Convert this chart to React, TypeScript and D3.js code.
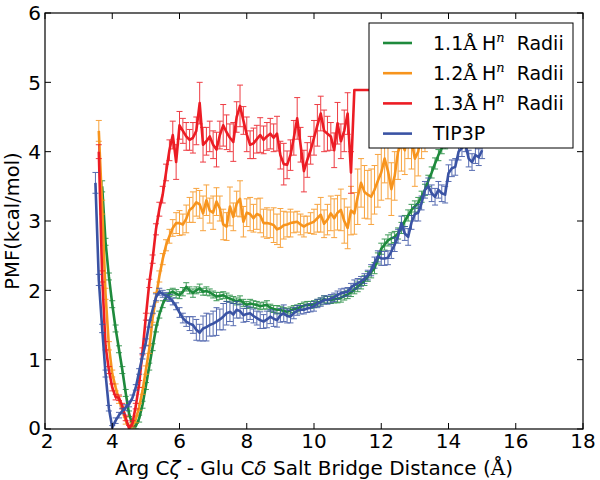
import React from 'react';
import * as d3 from 'd3';

// ---------- data ----------
const xTickValues = [2, 4, 6, 8, 10, 12, 14, 16, 18];
const yTickValues = [0, 1, 2, 3, 4, 5, 6];
const seriesNames = ['1.1', '1.2', '1.3', 'TIP3P'];
const seriesColors = ['#1e8a3c', '#f7941d', '#ec1c24', '#3a53a4'];
const seriesStart = [3.7, 3.6, 3.6, 3.5];
const stepX = 0.1;

const greenY = [
  3.5, 2.7, 2.2, 1.8, 1.45, 1.15, 0.85, 0.52, 0.22, 0.06,
  0.04, 0.15, 0.35, 0.62, 0.9, 1.18, 1.45, 1.65, 1.8, 1.9,
  1.96, 1.98, 1.95, 1.93, 1.98, 2.05, 2.0, 1.96, 2.0, 2.03,
  1.98, 1.99, 1.97, 1.94, 1.91, 1.92, 1.93, 1.9, 1.88, 1.86,
  1.84, 1.86, 1.82, 1.79, 1.81, 1.8, 1.79, 1.77, 1.78, 1.79,
  1.75, 1.73, 1.72, 1.72, 1.7, 1.69, 1.71, 1.73, 1.74, 1.76,
  1.78, 1.79, 1.79, 1.8, 1.82, 1.84, 1.87, 1.86, 1.86, 1.87,
  1.88, 1.89, 1.92, 1.94, 1.97, 2.01, 2.05, 2.09, 2.14, 2.2,
  2.26, 2.32, 2.46, 2.6, 2.66, 2.72, 2.75, 2.77, 2.82, 2.9,
  3.0, 3.08, 3.16, 3.21, 3.26, 3.35, 3.45, 3.58, 3.7, 3.83,
  3.95, 4.05, 4.12, 4.25,
];
const greenErr = [
  0.08, 0.05, 0.05, 0.05, 0.05, 0.05, 0.05, 0.05, 0.04, 0.04,
  0.04, 0.05, 0.05, 0.05, 0.05, 0.05, 0.05, 0.05, 0.05, 0.05,
  0.05, 0.05, 0.06, 0.05, 0.06, 0.06, 0.05, 0.06, 0.05, 0.06,
  0.05, 0.06, 0.05, 0.05, 0.06, 0.05, 0.05, 0.06, 0.05, 0.05,
  0.05, 0.06, 0.05, 0.05, 0.06, 0.05, 0.05, 0.05, 0.05, 0.06,
  0.05, 0.05, 0.06, 0.05, 0.05, 0.05, 0.05, 0.05, 0.05, 0.05,
  0.05, 0.05, 0.05, 0.05, 0.05, 0.05, 0.05, 0.05, 0.05, 0.05,
  0.06, 0.06, 0.06, 0.06, 0.06, 0.06, 0.07, 0.07, 0.07, 0.07,
  0.08, 0.08, 0.08, 0.08, 0.08, 0.08, 0.08, 0.08, 0.08, 0.08,
  0.08, 0.08, 0.08, 0.08, 0.08, 0.08, 0.08, 0.08, 0.08, 0.08,
  0.08, 0.08, 0.08, 0.08,
];

const orangeY = [
  4.3, 3.2, 1.95, 1.2, 0.8, 0.6, 0.42, 0.28, 0.12, 0.03,
  0.05, 0.14, 0.32, 0.55, 0.85, 1.15, 1.6, 1.9, 2.2, 2.45,
  2.65, 2.78, 2.9, 2.97, 2.97, 2.95, 3.03, 3.16, 3.2, 3.27,
  3.24, 3.11, 3.3, 3.15, 3.12, 3.28, 3.18, 2.95, 2.92, 3.21,
  3.06, 3.25, 3.32, 2.99, 3.12, 3.1, 3.04, 3.1, 3.08, 2.97,
  2.97, 2.96, 2.94, 2.88, 2.9, 2.94, 2.95, 2.97, 2.98, 2.99,
  2.95, 2.92, 2.95, 2.97, 2.99, 3.04, 3.09, 2.96, 3.02, 3.11,
  3.04, 3.12, 3.16, 3.0, 2.9, 3.15, 3.11, 3.35, 3.55, 3.42,
  3.38, 3.35, 3.45, 3.58, 3.7, 3.9, 3.72, 3.46, 3.65, 4.0,
  4.12, 4.02, 4.3, 4.15, 3.9, 4.0, 4.3, 4.4,
];
const orangeErr = [
  0.15, 0.1, 0.08, 0.06, 0.05, 0.05, 0.05, 0.05, 0.05, 0.04,
  0.04, 0.05, 0.05, 0.05, 0.06, 0.06, 0.06, 0.07, 0.08, 0.08,
  0.08, 0.1, 0.12, 0.15, 0.18, 0.15, 0.2, 0.18, 0.22, 0.2,
  0.2, 0.25, 0.22, 0.18, 0.24, 0.2, 0.18, 0.22, 0.2, 0.28,
  0.2, 0.18, 0.26, 0.22, 0.2, 0.24, 0.2, 0.22, 0.25, 0.2,
  0.22, 0.2, 0.25, 0.22, 0.28, 0.2, 0.18, 0.2, 0.15, 0.15,
  0.15, 0.15, 0.12, 0.15, 0.18, 0.2, 0.25, 0.2, 0.22, 0.25,
  0.28, 0.25, 0.3, 0.32, 0.3, 0.35, 0.3, 0.4, 0.35, 0.38,
  0.35, 0.4, 0.35, 0.38, 0.4, 0.35, 0.4, 0.38, 0.35, 0.4,
  0.4, 0.35, 0.4, 0.4, 0.4, 0.35, 0.4, 0.4,
];

const redY = [
  4.0, 2.2, 1.2, 0.85, 0.6, 0.46, 0.45, 0.33, 0.16, 0.01,
  0.08, 0.33, 0.65, 1.12, 1.62, 2.1, 2.45, 2.88, 3.17, 3.38,
  3.7, 4.02, 4.24, 3.85, 4.38, 4.3, 4.22, 4.17, 4.2, 4.3,
  4.7, 4.1, 4.15, 4.22, 4.1, 4.03, 4.24, 4.38, 4.28, 4.2,
  4.14, 4.5, 4.66, 4.45, 4.25, 4.1, 4.12, 4.18, 4.24, 4.17,
  4.22, 4.26, 4.2, 4.26, 3.95, 3.82, 3.81, 3.95, 4.2, 4.48,
  4.1, 3.72, 3.88, 4.02, 4.2, 4.38, 4.55, 4.3, 4.26, 4.22,
  4.02, 4.41, 4.15, 4.3, 4.55, 3.7, 4.89, 4.89, 4.89, 4.89,
  4.89, 4.89, 4.89, 4.89, 4.89, 4.89, 4.89, 4.89, 4.89, 4.89,
];
const redErr = [
  0.1, 0.08, 0.06, 0.05, 0.05, 0.04, 0.04, 0.04, 0.04, 0.04,
  0.04, 0.04, 0.05, 0.05, 0.05, 0.06, 0.06, 0.08, 0.1, 0.12,
  0.12, 0.15, 0.2, 0.25, 0.2, 0.18, 0.2, 0.15, 0.22, 0.2,
  0.3, 0.25, 0.2, 0.22, 0.2, 0.25, 0.2, 0.3, 0.25, 0.2,
  0.28, 0.22, 0.3, 0.2, 0.25, 0.2, 0.22, 0.2, 0.25, 0.2,
  0.2, 0.22, 0.2, 0.25, 0.2, 0.3, 0.2, 0.22, 0.25, 0.3,
  0.25, 0.3, 0.25, 0.2, 0.25, 0.3, 0.25, 0.3, 0.25, 0.2,
  0.25, 0.3, 0.25, 0.3, 0.3, 0.3, 0, 0, 0, 0,
  0, 0, 0, 0, 0, 0, 0, 0, 0, 0,
];

const blueY = [
  3.55, 2.15, 1.45, 0.8, 0.3, 0.02, 0.12, 0.2, 0.26, 0.31,
  0.36, 0.45, 0.6, 0.83, 1.05, 1.25, 1.52, 1.72, 1.9, 1.98,
  1.95, 1.92, 1.89, 1.84, 1.77, 1.68, 1.6, 1.55, 1.52, 1.5,
  1.43, 1.39, 1.45, 1.47, 1.5, 1.52, 1.55, 1.58, 1.62, 1.67,
  1.69, 1.65, 1.72, 1.7, 1.64, 1.66, 1.67, 1.63, 1.6, 1.57,
  1.55, 1.58, 1.62, 1.59, 1.57, 1.64, 1.67, 1.63, 1.62, 1.67,
  1.71, 1.72, 1.72, 1.74, 1.75, 1.77, 1.81, 1.83, 1.86, 1.86,
  1.88, 1.9, 1.93, 1.96, 1.97, 1.98, 2.04, 2.08, 2.1, 2.13,
  2.17, 2.22, 2.29, 2.4, 2.49, 2.46, 2.46, 2.47, 2.56, 2.66,
  2.78, 2.97, 2.82, 2.77, 2.98, 3.1, 3.12, 3.26, 3.45, 3.5,
  3.4, 3.35, 3.45, 3.4, 3.38, 3.69, 3.76, 3.78, 4.0, 4.05,
  4.12, 3.9, 3.85, 3.95, 3.92, 4.02,
];
const blueErr = [
  0.15, 0.08, 0.06, 0.05, 0.04, 0.03, 0.04, 0.04, 0.04, 0.04,
  0.04, 0.04, 0.04, 0.04, 0.04, 0.05, 0.05, 0.05, 0.05, 0.05,
  0.05, 0.05, 0.05, 0.05, 0.05, 0.07, 0.07, 0.07, 0.1, 0.12,
  0.15, 0.12, 0.18, 0.2, 0.16, 0.18, 0.2, 0.15, 0.19, 0.17,
  0.14, 0.16, 0.12, 0.1, 0.1, 0.11, 0.09, 0.1, 0.1, 0.12,
  0.1, 0.12, 0.1, 0.11, 0.1, 0.1, 0.12, 0.1, 0.09, 0.08,
  0.07, 0.06, 0.06, 0.06, 0.06, 0.07, 0.06, 0.06, 0.06, 0.06,
  0.06, 0.06, 0.06, 0.06, 0.06, 0.06, 0.06, 0.07, 0.07, 0.07,
  0.07, 0.07, 0.08, 0.08, 0.08, 0.1, 0.1, 0.1, 0.1, 0.1,
  0.1, 0.1, 0.1, 0.12, 0.1, 0.1, 0.12, 0.1, 0.12, 0.12,
  0.12, 0.12, 0.12, 0.12, 0.12, 0.12, 0.12, 0.12, 0.12, 0.12,
  0.12, 0.12, 0.12, 0.12, 0.12, 0.12,
];

const seriesValues = [greenY, orangeY, redY, blueY];
const seriesErrors = [greenErr, orangeErr, redErr, blueErr];

// ---------- layout ----------
const W = 600;
const H = 480;
const plot = { left: 45, right: 583, top: 13, bottom: 429 };
const FONT = "'DejaVu Sans', sans-serif";
const SERIF = "'DejaVu Serif', serif";

type Pt = { x: number; y: number; e: number };

export default function App() {
  const x = d3.scaleLinear().domain([2, 18]).range([plot.left, plot.right]);
  const y = d3.scaleLinear().domain([0, 6]).range([plot.bottom, plot.top]);
  const line = d3
    .line<Pt>()
    .x((d) => x(d.x))
    .y((d) => y(d.y));

  const data: Pt[][] = seriesValues.map((vals, si) =>
    vals.map((v, i) => ({
      x: +(seriesStart[si] + i * stepX).toFixed(2),
      y: v,
      e: seriesErrors[si][i] ?? 0,
    }))
  );

  const tickLen = 6;
  const cap = 3;

  const legend = { x: 369, y: 23, w: 204, h: 125 };
  const rowY = (i: number) => legend.y + 20 + i * 30.2;

  const legendLabel = (i: number) => {
    if (seriesNames[i] === 'TIP3P') return <tspan>TIP3P</tspan>;
    return (
      <>
        <tspan>{seriesNames[i]}</tspan>
        <tspan fontFamily={SERIF}>Å</tspan>
        <tspan dx={5}>H</tspan>
        <tspan fontFamily={SERIF} fontStyle="italic" fontSize={13} dy={-8}>
          n
        </tspan>
        <tspan dx={12} dy={8}>
          Radii
        </tspan>
      </>
    );
  };

  return (
    <svg
      width={W}
      height={H}
      style={{ position: 'absolute', left: 0, top: 0, background: '#fff' }}
      fontFamily={FONT}
    >
      <defs>
        <clipPath id="plotclip">
          <rect
            x={plot.left}
            y={plot.top}
            width={plot.right - plot.left}
            height={plot.bottom - plot.top}
          />
        </clipPath>
      </defs>
      <rect x={0} y={0} width={W} height={H} fill="#fff" />

      {/* series */}
      <g clipPath="url(#plotclip)">
        {data.map((pts, si) => (
          <g key={si}>
            <g stroke={seriesColors[si]} strokeWidth={1} opacity={0.85}>
              {pts
                .filter((p) => p.e > 0)
                .map((p, i) => {
                  const px = x(p.x);
                  const y1 = y(p.y - p.e);
                  const y2 = y(p.y + p.e);
                  return (
                    <g key={i}>
                      <line x1={px} x2={px} y1={y1} y2={y2} />
                      <line x1={px - cap} x2={px + cap} y1={y1} y2={y1} />
                      <line x1={px - cap} x2={px + cap} y1={y2} y2={y2} />
                    </g>
                  );
                })}
            </g>
            <path
              d={line(pts) ?? ''}
              fill="none"
              stroke={seriesColors[si]}
              strokeWidth={2.6}
              strokeLinejoin="round"
            />
          </g>
        ))}
      </g>

      {/* frame */}
      <rect
        x={plot.left}
        y={plot.top}
        width={plot.right - plot.left}
        height={plot.bottom - plot.top}
        fill="none"
        stroke="#000"
        strokeWidth={1.2}
      />

      {/* x ticks */}
      {xTickValues.map((t) => (
        <g key={'xt' + t}>
          <line x1={x(t)} x2={x(t)} y1={plot.bottom} y2={plot.bottom - tickLen} stroke="#000" />
          <line x1={x(t)} x2={x(t)} y1={plot.top} y2={plot.top + tickLen} stroke="#000" />
          <text x={x(t) + (t === 2 ? 2 : 0)} y={plot.bottom + 19} fontSize={20} textAnchor="middle" fill="#000">
            {t}
          </text>
        </g>
      ))}

      {/* y ticks */}
      {yTickValues.map((t) => (
        <g key={'yt' + t}>
          <line x1={plot.left} x2={plot.left + tickLen} y1={y(t)} y2={y(t)} stroke="#000" />
          <line x1={plot.right} x2={plot.right - tickLen} y1={y(t)} y2={y(t)} stroke="#000" />
          <text x={plot.left - 4} y={y(t)} dy={t === 0 ? '0.3em' : '0.36em'} fontSize={20} textAnchor="end" fill="#000">
            {t}
          </text>
        </g>
      ))}

      {/* axis labels */}
      <text x={(plot.left + plot.right) / 2} y={475} fontSize={20} textAnchor="middle" fill="#000">
        <tspan>Arg C</tspan>
        <tspan fontStyle="italic">ζ</tspan>
        <tspan> - Glu C</tspan>
        <tspan fontStyle="italic">δ</tspan>
        <tspan> Salt Bridge Distance (</tspan>
        <tspan fontFamily={SERIF}>Å</tspan>
        <tspan>)</tspan>
      </text>
      <text
        transform={`translate(18.5, ${(plot.top + plot.bottom) / 2}) rotate(-90)`}
        fontSize={19.5}
        textAnchor="middle"
        fill="#000"
      >
        PMF(kcal/mol)
      </text>

      {/* legend */}
      <g>
        <rect
          x={legend.x}
          y={legend.y}
          width={legend.w}
          height={legend.h}
          fill="#fff"
          stroke="#000"
          strokeWidth={1}
        />
        {seriesNames.map((name, i) => (
          <g key={name}>
            <line
              x1={legend.x + 14}
              x2={legend.x + 43}
              y1={rowY(i)}
              y2={rowY(i)}
              stroke={seriesColors[i]}
              strokeWidth={2.6}
            />
            <text x={legend.x + 64} y={rowY(i)} dy="0.36em" fontSize={19} fill="#000">
              {legendLabel(i)}
            </text>
          </g>
        ))}
      </g>
    </svg>
  );
}
